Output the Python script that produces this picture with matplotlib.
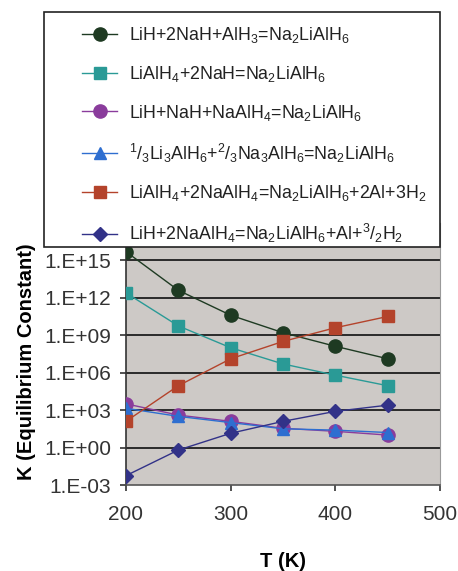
import matplotlib
matplotlib.use("Agg")
import matplotlib.pyplot as plt
from matplotlib.patches import Rectangle
from matplotlib.ticker import FixedLocator, NullLocator

plt.rcParams['font.family'] = ['Liberation Sans', 'DejaVu Sans']
plt.rcParams['mathtext.fontset'] = 'custom'
plt.rcParams['mathtext.rm'] = 'Liberation Sans'
plt.rcParams['mathtext.it'] = 'Liberation Sans'
plt.rcParams['mathtext.bf'] = 'Liberation Sans:bold'

T = [200, 250, 300, 350, 400, 450]
k_lih_2nah_alh3 = [5e15, 4e12, 4e10, 1.6e9, 1.3e8, 1.3e7]
k_lialh4_2nah = [2.5e12, 5.6e9, 1e8, 5e6, 6.3e5, 9e4]
k_lih_nah_naalh4 = [3.2e3, 400, 126, 35, 20, 10]
k_li3_na3 = [1.4e3, 316, 100, 32, 25, 16]
k_lialh4_2naalh4 = [126, 9e4, 1.3e7, 3.2e8, 4e9, 3.2e10]
k_lih_2naalh4 = [5.6e-3, 0.63, 14, 126, 800, 2.5e3]

labels = [
    r"LiH+2NaH+AlH$_3$=Na$_2$LiAlH$_6$",
    r"LiAlH$_4$+2NaH=Na$_2$LiAlH$_6$",
    r"LiH+NaH+NaAlH$_4$=Na$_2$LiAlH$_6$",
    r"$^1$/$_3$Li$_3$AlH$_6$+$^2$/$_3$Na$_3$AlH$_6$=Na$_2$LiAlH$_6$",
    r"LiAlH$_4$+2NaAlH$_4$=Na$_2$LiAlH$_6$+2Al+3H$_2$",
    r"LiH+2NaAlH$_4$=Na$_2$LiAlH$_6$+Al+$^3$/$_2$H$_2$",
]
series = [k_lih_2nah_alh3, k_lialh4_2nah, k_lih_nah_naalh4, k_li3_na3,
          k_lialh4_2naalh4, k_lih_2naalh4]
colors = ['#1e3a22', '#2a9a96', '#8a3c9c', '#2e6ed0', '#b4432b', '#323288']
markers = ['o', 's', 'o', '^', 's', 'D']
msizes = [9.5, 9, 9.5, 9, 9, 7.5]

ytick_vals = [1e-3, 1e0, 1e3, 1e6, 1e9, 1e12, 1e15]
ytick_labels = ['1.E-03', '1.E+00', '1.E+03', '1.E+06', '1.E+09', '1.E+12', '1.E+15']
xtick_vals = [200, 300, 400, 500]

fig = plt.figure(figsize=(4.58, 5.71), dpi=100)
ax = fig.add_axes([0.275, 0.1506, 0.686, 0.459])
ax.set_facecolor('#cdc9c6')

handles = []
for ys, c, m, ms, lab in zip(series, colors, markers, msizes, labels):
    h, = ax.plot(T, ys, color=c, marker=m, markersize=ms, linewidth=1.0,
                 markeredgecolor=c, label=lab, zorder=3)
    handles.append(h)

ax.set_yscale('log')
ax.set_ylim(1e-3, 1e18)
ax.set_xlim(200, 500)
ax.yaxis.set_major_locator(FixedLocator(ytick_vals))
ax.yaxis.set_minor_locator(NullLocator())
ax.set_yticklabels(ytick_labels)
ax.set_xticks(xtick_vals)
ax.set_xticklabels([str(v) for v in xtick_vals])

for v in [1e0, 1e3, 1e6, 1e9, 1e12, 1e15, 1e18]:
    ax.axhline(v, color='#2a2a2a', linewidth=1.4, zorder=1)

ax.spines['left'].set_color('#333333')
ax.spines['left'].set_linewidth(1.2)
ax.spines['bottom'].set_color('#555555')
ax.spines['bottom'].set_linewidth(1.2)
ax.spines['right'].set_color('#999999')
ax.spines['top'].set_visible(False)

ax.tick_params(axis='both', direction='out', length=4.5, width=1.2, color='#333333',
               labelsize=15, labelcolor='#333333')
ax.tick_params(axis='x', pad=10)
ax.tick_params(axis='y', pad=6)

ax.set_xlabel('T (K)', fontsize=14.5, fontweight='bold', labelpad=20)
ax.set_ylabel('K (Equilibrium Constant)', fontsize=14.5, fontweight='bold')
ax.yaxis.set_label_coords(-0.285, 0.47)

# legend frame
frame = Rectangle((44 / 458, 1 - 247 / 571), (440 - 44) / 458, (247 - 12) / 571,
                  transform=fig.transFigure, facecolor='white', edgecolor='#222222',
                  linewidth=1.2, zorder=9)
fig.patches.append(frame)

leg = fig.legend(handles=handles, loc='upper left',
                 bbox_to_anchor=(82 / 458, 1 - 25 / 571),
                 fontsize=12.8, frameon=False, borderpad=0.0,
                 labelspacing=1.06, handlelength=1.97, handletextpad=0.67,
                 borderaxespad=0.0)
leg.set_zorder(10)
for t in leg.get_texts():
    t.set_color('#222222')

fig.savefig('out.png', dpi=100)
